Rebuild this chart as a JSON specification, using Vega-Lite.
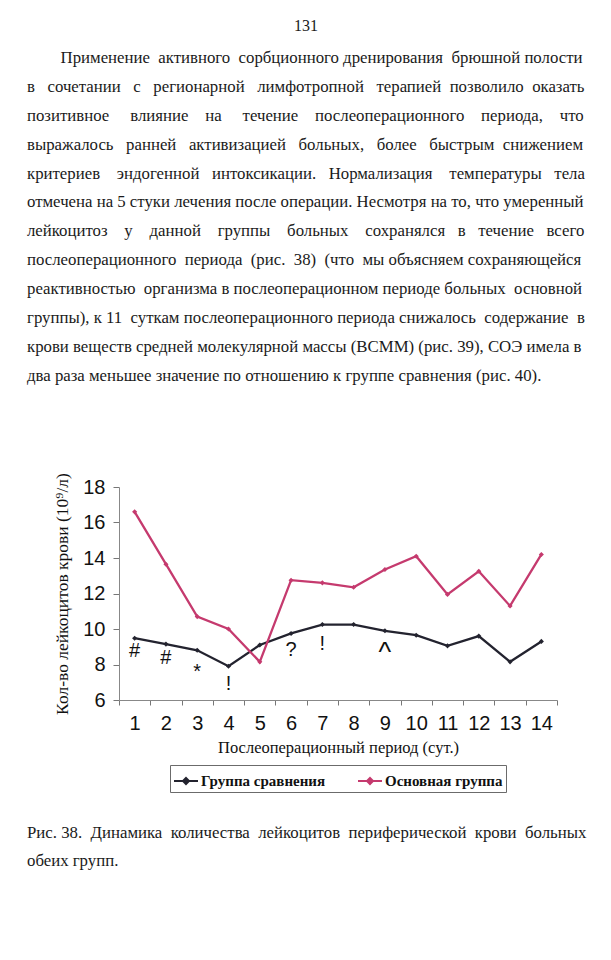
{
  "$schema": "https://vega.github.io/schema/vega-lite/v6.json",
  "background": "white",
  "padding": {"left": 27, "top": 17, "right": 10, "bottom": 10},
  "config": {
    "view": {"stroke": null},
    "concat": {"spacing": 0},
    "legend": {"layout": {"bottom": {"anchor": "middle"}}},
    "axisX": {
      "tickBand": "extent", "labelAngle": 0, "grid": false, "labelOverlap": false,
      "labelFont": "Liberation Sans", "labelFontSize": 20, "labelColor": "#111",
      "tickSize": 5, "tickColor": "#777", "domainColor": "#888", "labelPadding": 8,
      "titleFont": "Liberation Serif", "titleFontSize": 16.5, "titleFontWeight": "normal", "titleColor": "#111", "titlePadding": 6
    },
    "axisY": {
      "grid": false, "labelOverlap": false,
      "labelFont": "Liberation Sans", "labelFontSize": 20, "labelColor": "#111",
      "tickSize": 6, "tickColor": "#777", "domainColor": "#888", "labelPadding": 8,
      "titleFont": "Liberation Serif", "titleFontSize": 17.5, "titleFontWeight": "normal", "titleColor": "#111", "titlePadding": 11
    }
  },
  "title": {
    "text": ["Рис. 38.\u00a0 Динамика\u00a0 количества\u00a0 лейкоцитов\u00a0 периферической\u00a0 крови\u00a0 больных", "обеих групп."],
    "orient": "bottom", "anchor": "start", "frame": "bounds",
    "font": "Liberation Serif", "fontSize": 16.8, "fontWeight": "normal", "color": "#1a1a1a",
    "lineHeight": 28, "offset": 32
  },
  "vconcat": [
    {
      "title": {"text": "131", "anchor": "middle", "frame": "bounds", "font": "Liberation Serif", "fontSize": 16, "fontWeight": "normal", "color": "#1a1a1a", "offset": 16},
      "vconcat": [
        {
          "width": 438,
          "height": 213,
          "title": {
            "text": [
              "\u200b\u00a0\u00a0\u00a0\u00a0\u00a0\u00a0\u00a0\u00a0Применение\u00a0 активного\u00a0 сорбционного дренирования\u00a0 брюшной полости",
              "в\u00a0\u00a0 сочетании\u00a0\u00a0 с\u00a0\u00a0 регионарной\u00a0\u00a0 лимфотропной\u00a0\u00a0 терапией\u00a0 позволило\u00a0 оказать",
              "позитивное\u00a0\u00a0\u00a0\u00a0 влияние\u00a0\u00a0\u00a0 на\u00a0\u00a0\u00a0\u00a0 течение\u00a0\u00a0\u00a0 послеоперационного\u00a0\u00a0\u00a0 периода,\u00a0\u00a0\u00a0 что",
              "выражалось\u00a0\u00a0 ранней\u00a0\u00a0 активизацией\u00a0\u00a0 больных,\u00a0\u00a0 более\u00a0\u00a0 быстрым\u00a0 снижением",
              "критериев\u00a0\u00a0\u00a0 эндогенной\u00a0\u00a0 интоксикации.\u00a0\u00a0 Нормализация\u00a0\u00a0\u00a0 температуры\u00a0\u00a0 тела",
              "отмечена на 5 стуки лечения после операции. Несмотря на то, что умеренный",
              "лейкоцитоз\u00a0\u00a0\u00a0 у\u00a0\u00a0\u00a0 данной\u00a0\u00a0\u00a0 группы\u00a0\u00a0\u00a0 больных\u00a0\u00a0\u00a0 сохранялся\u00a0\u00a0 в\u00a0\u00a0 течение\u00a0\u00a0 всего",
              "послеоперационного\u00a0 периода\u00a0 (рис.\u00a0 38)\u00a0 (что\u00a0 мы объясняем сохраняющейся",
              "реактивностью\u00a0 организма в послеоперационном периоде больных\u00a0 основной",
              "группы), к 11\u00a0 суткам послеоперационного периода снижалось\u00a0 содержание\u00a0 в",
              "крови веществ средней молекулярной массы (ВСММ) (рис. 39), СОЭ имела в",
              "два раза меньшее значение по отношению к группе сравнения (рис. 40)."
            ],
            "anchor": "start", "frame": "group", "dx": -92,
            "font": "Liberation Serif", "fontSize": 16.8, "fontWeight": "normal", "color": "#1a1a1a",
            "lineHeight": 28.9, "offset": 88
          },
          "encoding": {
            "x": {
              "field": "day", "type": "ordinal",
              "scale": {"type": "band", "paddingInner": 0, "paddingOuter": 0},
              "axis": {"title": "Послеоперационный период (сут.)", "labelOverlap": false}
            },
            "y": {
              "field": "value", "type": "quantitative",
              "scale": {"domain": [6, 18], "nice": false, "zero": false},
              "axis": {"values": [6, 8, 10, 12, 14, 16, 18], "tickCount": 7, "labelOverlap": false, "title": "Кол-во лейкоцитов крови (10⁹/л)"}
            }
          },
          "layer": [
            {
              "data": {"values": [
                {"day": 1, "group": "Группа сравнения", "value": 9.48},
                {"day": 2, "group": "Группа сравнения", "value": 9.15},
                {"day": 3, "group": "Группа сравнения", "value": 8.8},
                {"day": 4, "group": "Группа сравнения", "value": 7.9},
                {"day": 5, "group": "Группа сравнения", "value": 9.1},
                {"day": 6, "group": "Группа сравнения", "value": 9.75},
                {"day": 7, "group": "Группа сравнения", "value": 10.25},
                {"day": 8, "group": "Группа сравнения", "value": 10.25},
                {"day": 9, "group": "Группа сравнения", "value": 9.9},
                {"day": 10, "group": "Группа сравнения", "value": 9.65},
                {"day": 11, "group": "Группа сравнения", "value": 9.05},
                {"day": 12, "group": "Группа сравнения", "value": 9.6},
                {"day": 13, "group": "Группа сравнения", "value": 8.15},
                {"day": 14, "group": "Группа сравнения", "value": 9.3},
                {"day": 1, "group": "Основная группа", "value": 16.6},
                {"day": 2, "group": "Основная группа", "value": 13.65},
                {"day": 3, "group": "Основная группа", "value": 10.7},
                {"day": 4, "group": "Основная группа", "value": 10.0},
                {"day": 5, "group": "Основная группа", "value": 8.15},
                {"day": 6, "group": "Основная группа", "value": 12.75},
                {"day": 7, "group": "Основная группа", "value": 12.6},
                {"day": 8, "group": "Основная группа", "value": 12.35},
                {"day": 9, "group": "Основная группа", "value": 13.35},
                {"day": 10, "group": "Основная группа", "value": 14.1},
                {"day": 11, "group": "Основная группа", "value": 11.95},
                {"day": 12, "group": "Основная группа", "value": 13.25},
                {"day": 13, "group": "Основная группа", "value": 11.3},
                {"day": 14, "group": "Основная группа", "value": 14.2}
              ]},
              "mark": {"type": "line", "strokeWidth": 2.3, "point": {"shape": "diamond", "size": 26, "filled": true}},
              "encoding": {
                "color": {
                  "field": "group", "type": "nominal",
                  "scale": {"domain": ["Группа сравнения", "Основная группа"], "range": ["#23232f", "#c53a6e"]},
                  "legend": {
                    "orient": "bottom", "direction": "horizontal", "title": null,
                    "strokeColor": "#6b6b6b", "padding": 3,
                    "labelFont": "Liberation Serif", "labelFontSize": 15, "labelFontWeight": "bold", "labelColor": "#111",
                    "symbolType": "M-1,0H1M0,-0.25L0.25,0L0,0.25L-0.25,0Z", "symbolSize": 576, "symbolStrokeWidth": 2,
                    "columnPadding": 28, "labelOffset": 2, "offset": 9,
                    "encode": {"symbols": {"update": {"fill": {"scale": "color", "field": "value"}}}}
                  }
                }
              }
            },
            {
              "data": {"values": [
                {"day": 1, "mark": "#", "value": 8.42},
                {"day": 2, "mark": "#", "value": 8.05},
                {"day": 3, "mark": "*", "value": 7.24},
                {"day": 4, "mark": "!", "value": 6.58},
                {"day": 6, "mark": "?", "value": 8.46},
                {"day": 7, "mark": "!", "value": 8.83}
              ]},
              "mark": {"type": "text", "font": "Liberation Sans", "fontSize": 20, "align": "center", "baseline": "alphabetic", "color": "#111"},
              "encoding": {"text": {"field": "mark"}}
            },
            {
              "data": {"values": [
                {"day": 9, "mark": "^", "value": 8.2}
              ]},
              "mark": {"type": "text", "font": "Liberation Sans", "fontSize": 27, "align": "center", "baseline": "alphabetic", "color": "#111"},
              "encoding": {"text": {"field": "mark"}}
            }
          ]
        }
      ]
    }
  ]
}
